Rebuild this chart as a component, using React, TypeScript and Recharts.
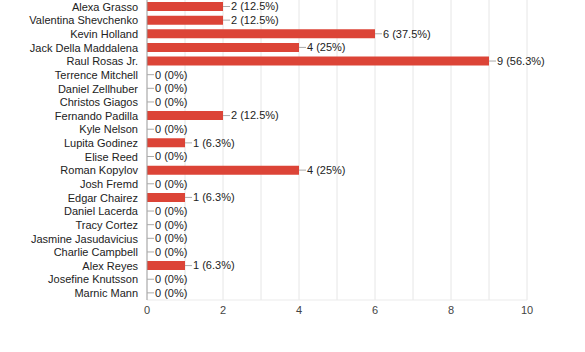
import { BarChart, Bar, XAxis, YAxis, LabelList, CartesianGrid } from 'recharts'

const FIGHTERS = [
  'Alexa Grasso', 'Valentina Shevchenko', 'Kevin Holland', 'Jack Della Maddalena',
  'Raul Rosas Jr.', 'Terrence Mitchell', 'Daniel Zellhuber', 'Christos Giagos',
  'Fernando Padilla', 'Kyle Nelson', 'Lupita Godinez', 'Elise Reed', 'Roman Kopylov',
  'Josh Fremd', 'Edgar Chairez', 'Daniel Lacerda', 'Tracy Cortez', 'Jasmine Jasudavicius',
  'Charlie Campbell', 'Alex Reyes', 'Josefine Knutsson', 'Marnic Mann',
]
const VOTES = [2, 2, 6, 4, 9, 0, 0, 0, 2, 0, 1, 0, 4, 0, 1, 0, 0, 0, 0, 1, 0, 0]
const RESPONDENTS = 16
const X_TICKS = [0, 2, 4, 6, 8, 10]
const GRID_LINES = [1, 2, 3, 4, 5, 6, 7, 8, 9, 10]

const data = FIGHTERS.map((name, i) => ({ name, votes: VOTES[i] }))

const FONT = 'Arial, "Liberation Sans", sans-serif'
const chartMargin = { top: 0, right: 58, bottom: 22, left: 0 }
const yTick = { fontSize: 11, fill: '#222', fontFamily: FONT }
const xTick = { fontSize: 11, fill: '#444', fontFamily: FONT }
const wrapStyle = { position: 'absolute' as const, top: 0, left: 0 }

const pct = (v: number) => Math.round((v / RESPONDENTS) * 1000) / 10

// leader line + "n (p%)" next to the bar end
const VoteLabel = (p: any) => {
  const x = Math.round(Number(p.x) + Number(p.width))
  const cy = Number(p.y) + Number(p.height) / 2
  return (
    <g>
      <line x1={x} y1={cy} x2={x + 7} y2={cy} stroke="#aaa" strokeWidth={1} />
      <text x={x + 8} y={cy} dy="0.35em" fontSize={11} fill="#222" fontFamily={FONT}>
        {`${p.value} (${pct(p.value)}%)`}
      </text>
    </g>
  )
}

export default function App() {
  return (
    <div style={wrapStyle}>
      <BarChart width={585} height={352} data={data} layout="vertical" margin={chartMargin}
        barSize={9}>
        <CartesianGrid horizontal={false} stroke="#e6e6e6" verticalValues={GRID_LINES} />
        <XAxis type="number" domain={[0, 10]} ticks={X_TICKS} tick={xTick}
          axisLine={{ stroke: '#ebebeb' }} tickLine={false} tickSize={0} tickMargin={6} />
        <YAxis type="category" dataKey="name" width={147} tick={yTick} interval={0}
          axisLine={{ stroke: '#999' }} tickLine={false} tickSize={0} tickMargin={9} />
        <Bar dataKey="votes" fill="#dc4437" minPointSize={0.01} isAnimationActive={false}>
          <LabelList dataKey="votes" content={VoteLabel} />
        </Bar>
      </BarChart>
    </div>
  )
}
